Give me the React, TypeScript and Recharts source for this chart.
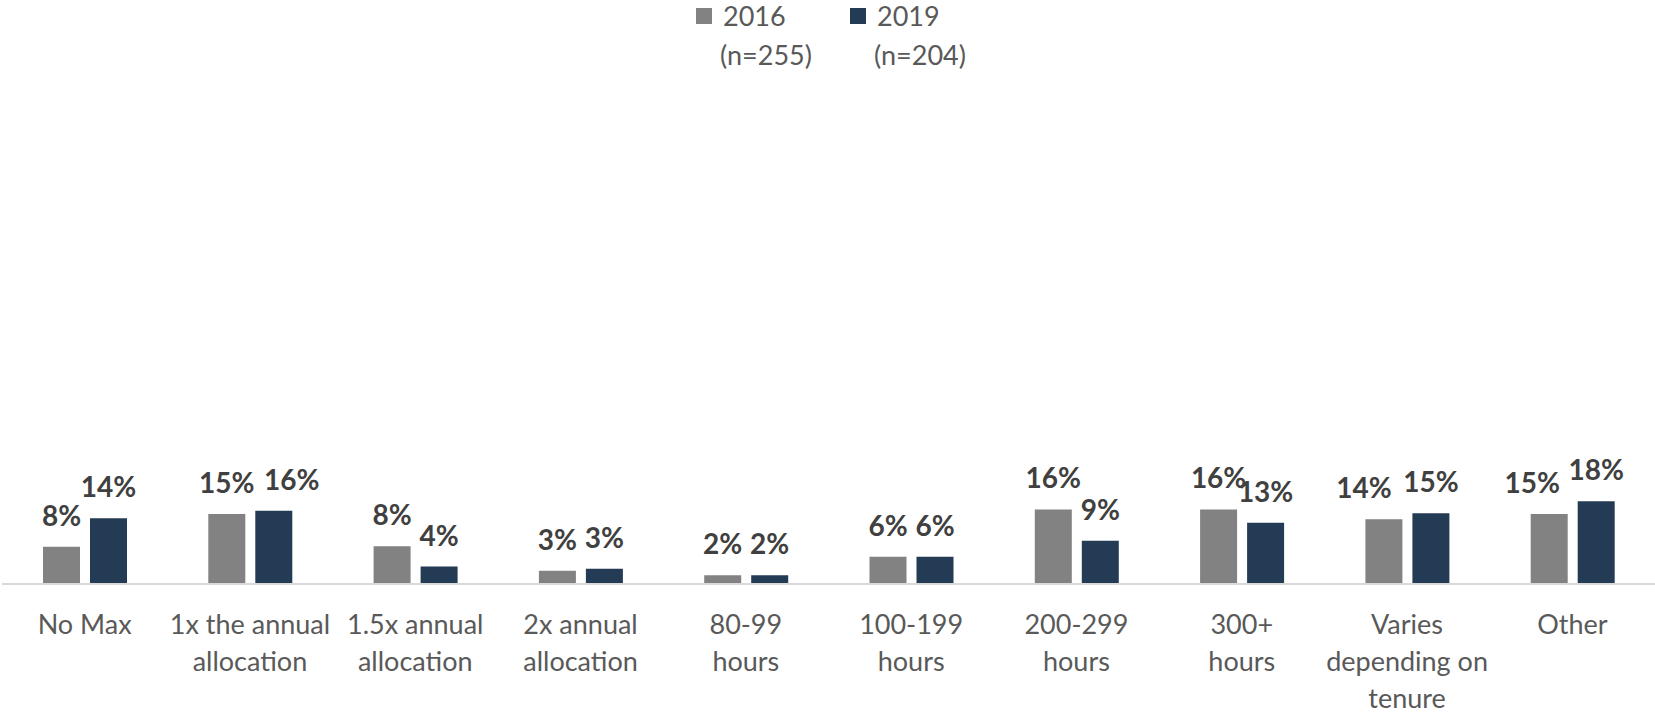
import { BarChart, Bar, XAxis, YAxis, LabelList } from "recharts";

const CATEGORIES = [
    "No Max",
    "1x the annual\nallocation",
    "1.5x annual\nallocation",
    "2x annual\nallocation",
    "80-99\nhours",
    "100-199\nhours",
    "200-299\nhours",
    "300+\nhours",
    "Varies\ndepending on\ntenure",
    "Other",
];

const VALUES_2016 = [8.1, 15.2, 8.2, 2.9, 1.9, 5.9, 16.2, 16.2, 14.1, 15.2];
const VALUES_2019 = [14.3, 15.9, 3.8, 3.3, 1.9, 5.9, 9.4, 13.3, 15.4, 18.0];

const SERIES = [
    { key: "y2016", year: "2016", n: "(n=255)", color: "#828282" },
    { key: "y2019", year: "2019", n: "(n=204)", color: "#243B55" },
];

// labels nudged sideways in the original so they don't collide
const LABEL_SHIFT: Record<string, Record<number, number>> = {
    y2016: { 8: -20, 9: -17 },
    y2019: { 1: 18 },
};

const FONT = "Lato, Calibri, sans-serif";

const data = CATEGORIES.map((name, i) => ({
    name,
    y2016: VALUES_2016[i],
    y2019: VALUES_2019[i],
}));

function CategoryTick(props: any) {
    const { x, y, payload } = props;
    const lines = String(payload.value).split("\n");
    return (
        <text
            x={x}
            y={y + 50}
            textAnchor="middle"
            fill="#595959"
            fontSize={27}
            fontFamily={FONT}
        >
            {lines.map((line, i) => (
                <tspan key={i} x={x} dy={i === 0 ? 0 : 37}>
                    {line}
                </tspan>
            ))}
        </text>
    );
}

function makeValueLabel(seriesKey: string) {
    return (props: any) => {
        const { x, y, width, value, index } = props;
        const shift = LABEL_SHIFT[seriesKey][index] ?? 0;
        return (
            <text
                x={Number(x) + Number(width) / 2 + shift}
                y={Number(y) - 21}
                textAnchor="middle"
                fill="#404040"
                fontSize={28}
                fontWeight="bold"
                fontFamily={FONT}
            >
                {`${Math.round(Number(value))}%`}
            </text>
        );
    };
}

function Legend() {
    const positions = [696, 850];
    return (
        <>
            {SERIES.map((s, i) => (
                <div
                    key={s.key}
                    style={{
                        position: "absolute",
                        left: positions[i],
                        top: 0,
                        fontFamily: FONT,
                        fontSize: 27,
                        color: "#595959",
                    }}
                >
                    <div
                        style={{
                            position: "absolute",
                            left: 0,
                            top: 8,
                            width: 16,
                            height: 16,
                            background: s.color,
                        }}
                    />
                    <div style={{ position: "absolute", left: 27, top: 0, lineHeight: "32px", whiteSpace: "nowrap" }}>
                        {s.year}
                    </div>
                    <div style={{ position: "absolute", left: 24, top: 39, lineHeight: "32px", whiteSpace: "nowrap" }}>
                        {s.n}
                    </div>
                </div>
            ))}
        </>
    );
}

export default function App() {
    return (
        <div style={{ position: "absolute", left: 0, top: 0, width: 1655, height: 714, background: "#fff" }}>
            <Legend />
            <BarChart
                width={1655}
                height={714}
                data={data}
                margin={{ top: 124, right: 0, left: 2, bottom: 0 }}
                barGap={10}
                barSize={37}
            >
                <XAxis
                    dataKey="name"
                    height={130}
                    tickLine={false}
                    tickSize={0}
                    tickMargin={0}
                    interval={0}
                    axisLine={{ stroke: "#D9D9D9", strokeWidth: 2 }}
                    tick={<CategoryTick />}
                />
                <YAxis hide domain={[0, 100]} />
                {SERIES.map((s) => (
                    <Bar key={s.key} dataKey={s.key} fill={s.color} isAnimationActive={false}>
                        <LabelList dataKey={s.key} content={makeValueLabel(s.key)} />
                    </Bar>
                ))}
            </BarChart>
        </div>
    );
}
